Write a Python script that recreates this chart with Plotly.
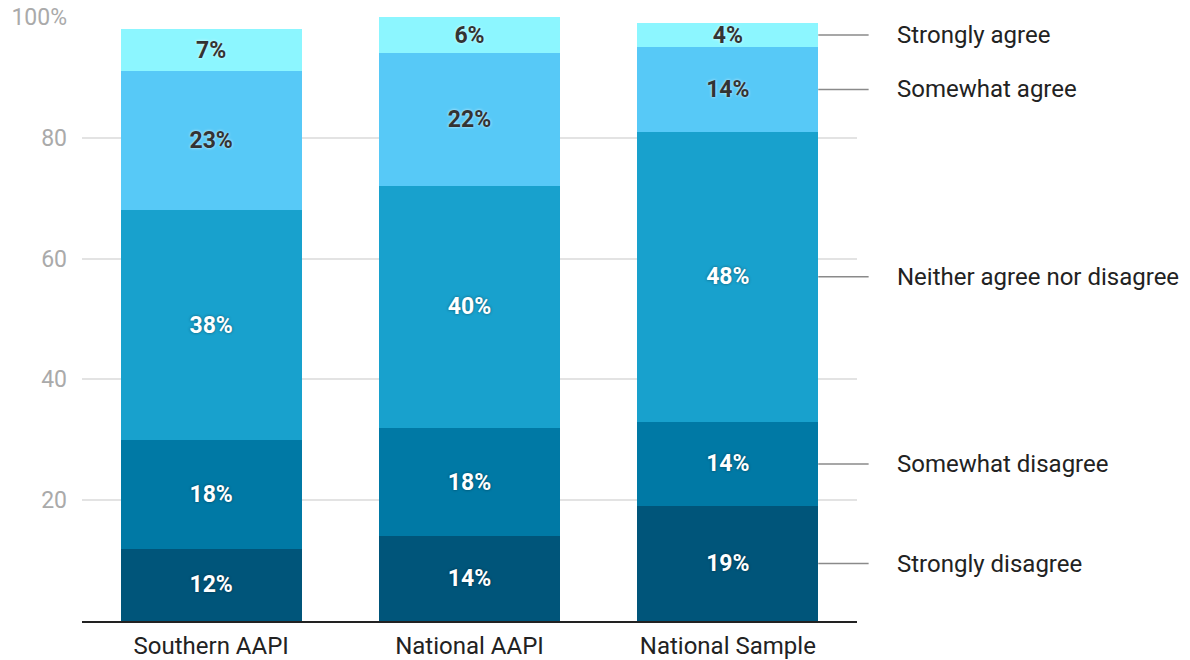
import plotly.graph_objects as go

# Survey groups and response shares (percent)
groups = ["Southern AAPI", "National AAPI", "National Sample"]
responses = ["Strongly disagree", "Somewhat disagree", "Neither agree nor disagree",
             "Somewhat agree", "Strongly agree"]
strongly_disagree = [12, 14, 19]
somewhat_disagree = [18, 18, 14]
neither = [38, 40, 48]
somewhat_agree = [23, 22, 14]
strongly_agree = [7, 6, 4]

series = [strongly_disagree, somewhat_disagree, neither, somewhat_agree, strongly_agree]
colors = ["#00557a", "#0079a5", "#18a1cd", "#57c9f7", "#8cf6ff"]
text_colors = ["#ffffff", "#ffffff", "#ffffff", "#333333", "#333333"]
text_shadows = ["0px 0px 3px rgba(0,0,0,0.45)"] * 3 + ["0px 0px 3px rgba(255,255,255,0.8)"] * 2

y_ticks = [20, 40, 60, 80, 100]
y_tick_text = ["20", "40", "60", "80", "100%"]

FONT = "Roboto"

fig = go.Figure()
for name, vals, col, tcol, tsh in zip(responses, series, colors, text_colors, text_shadows):
    fig.add_trace(go.Bar(
        x=groups, y=vals, name=name,
        marker=dict(color=col, line=dict(width=0)),
        text=[f"{v}%" for v in vals],
        textposition="inside", insidetextanchor="middle",
        constraintext="none", textangle=0,
        textfont=dict(family=FONT, size=23, color=tcol, weight="bold", shadow=tsh),
        hoverinfo="skip",
    ))

# Direct labels for the last bar, connected by leader lines at segment midpoints
n = len(groups)
last = n - 1
bar_half = 0.35


def to_paper(xc):
    # category axis spans [-0.5, n - 0.5]
    return (xc + 0.5) / n


cum = 0
for name, vals in zip(responses, series):
    mid = cum + vals[last] / 2
    cum += vals[last]
    fig.add_shape(type="line", xref="paper", yref="y",
                  x0=to_paper(last + bar_half), x1=to_paper(last + 0.545), y0=mid, y1=mid,
                  line=dict(color="#8a8a8a", width=1.5))
    fig.add_annotation(x=to_paper(last + 0.647), y=mid, xref="paper", yref="y",
                       text=name, showarrow=False, xanchor="left", yanchor="middle",
                       font=dict(family=FONT, size=24, color="#222222"))

fig.update_layout(
    barmode="stack", bargap=0.3,
    width=1190, height=660,
    margin=dict(l=82, r=333, t=17, b=39, autoexpand=False),
    plot_bgcolor="white", paper_bgcolor="white",
    showlegend=False,
    font=dict(family=FONT),
)
fig.update_xaxes(
    range=[-0.5, n - 0.5], showgrid=False, automargin=False,
    showline=True, linecolor="#222222", linewidth=2,
    ticks="", tickfont=dict(family=FONT, size=24, color="#222222"),
    ticklabelstandoff=2,
)
fig.update_yaxes(
    range=[0, 100], tickvals=y_ticks, ticktext=y_tick_text, automargin=False,
    showgrid=True, gridcolor="#e3e3e3", gridwidth=1.5,
    zeroline=False, showline=False, ticks="",
    tickfont=dict(family=FONT, size=23, color="#aaaaaa"),
    ticklabelstandoff=14,
)

fig.write_html("out.html")
